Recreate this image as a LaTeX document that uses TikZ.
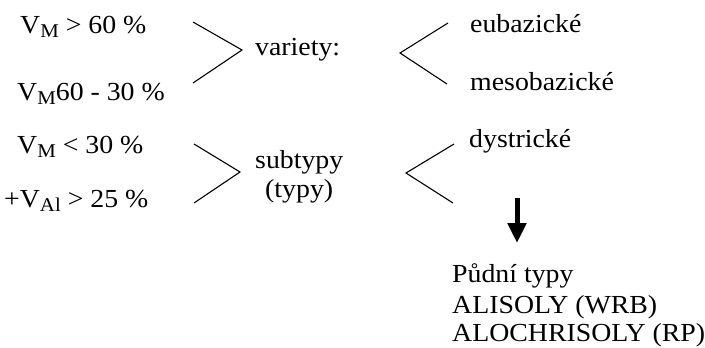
\documentclass[tikz,border=0pt]{standalone}
\usepackage{fontspec}
\setmainfont{Liberation Serif}[FakeStretch=1.07]
\usetikzlibrary{arrows.meta}
% lowered index letter, as in V_M
\newcommand{\lowidx}[1]{\raisebox{-0.35ex}{\scalebox{0.75}{#1}}}
\tikzset{
  lbl/.style={anchor=base west, inner sep=0pt, font=\fontsize{26}{30}\selectfont},
  brace/.style={line width=1.1pt, line join=miter},
}
\begin{document}
\begin{tikzpicture}[x=1pt,y=-1pt]
\useasboundingbox (0,0) rectangle (705,348);
% conditions
\node[lbl] (c1) at (20,33) {V\lowidx{M} > 60 \%};
\node[lbl] (c2) at (17,100) {V\lowidx{M}60 - 30 \%};
\node[lbl] (c3) at (17,153) {V\lowidx{M} < 30 \%};
\node[lbl] (c4) at (4,207) {+V\lowidx{Al} > 25 \%};
% middle labels
\node[lbl] (var) at (255,55) {variety:};
\node[lbl] (sub) at (255,168) {subtypy};
\node[lbl] (typ) at (265,197) {(typy)};
% right labels
\node[lbl] (eu) at (470,32) {eubazické};
\node[lbl] (meso) at (470,90) {mesobazické};
\node[lbl] (dys) at (469,147) {dystrické};
% soil types
\node[lbl] (pt) at (452,282) {Půdní typy};
\node[lbl] (al) at (452,313) {ALISOLY (WRB)};
\node[lbl] (alo) at (452,341) {ALOCHRISOLY (RP)};
% converging and diverging brackets
\coordinate (a1) at (193,22); \coordinate (a2) at (242,50); \coordinate (a3) at (193,83);
\coordinate (b1) at (194,144); \coordinate (b2) at (240,172); \coordinate (b3) at (194,203);
\coordinate (d1) at (448,23); \coordinate (d2) at (400,53); \coordinate (d3) at (447,84);
\coordinate (e1) at (454,144); \coordinate (e2) at (406,173); \coordinate (e3) at (453,203);
\draw[brace] (a1) -- (a2) -- (a3);
\draw[brace] (b1) -- (b2) -- (b3);
\draw[brace] (d1) -- (d2) -- (d3);
\draw[brace] (e1) -- (e2) -- (e3);
% downward arrow
\coordinate (s0) at (517,198);
\coordinate (s1) at (517,243);
\draw[line width=5pt, -{Triangle[width=18pt,length=20pt]}] (s0) -- (s1);
\end{tikzpicture}
\end{document}
